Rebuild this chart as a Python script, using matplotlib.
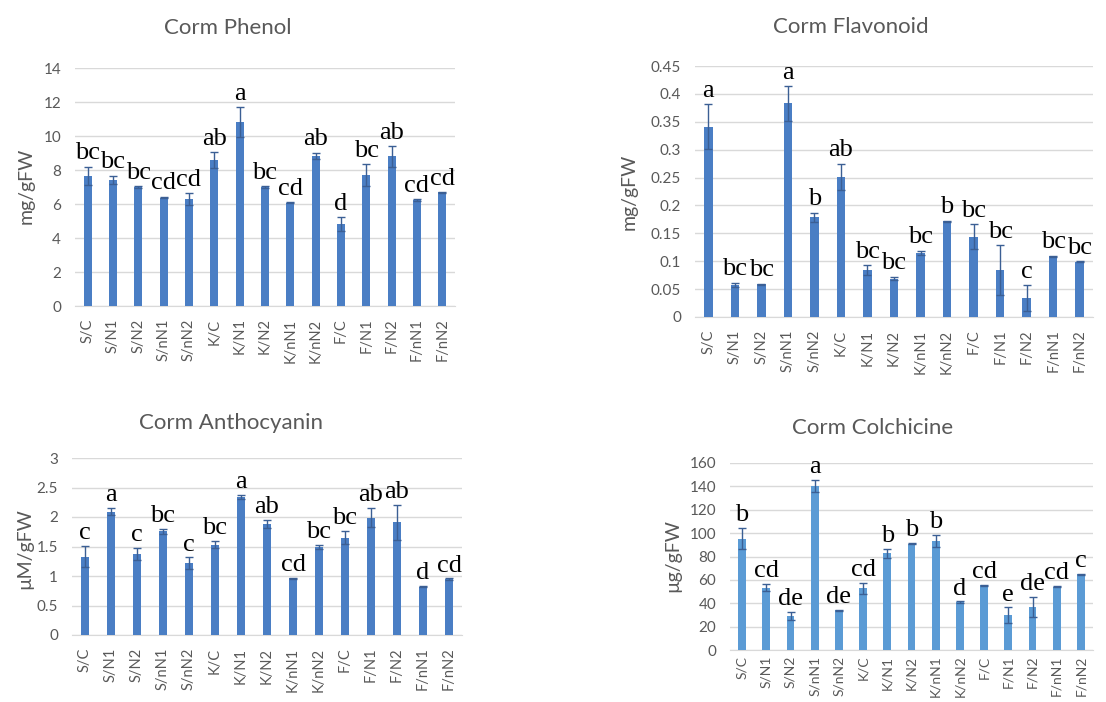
import matplotlib
matplotlib.use("Agg")
import matplotlib.pyplot as plt
import numpy as np

categories = ["S/C", "S/N1", "S/N2", "S/nN1", "S/nN2", "K/C", "K/N1", "K/N2",
              "K/nN1", "K/nN2", "F/C", "F/N1", "F/N2", "F/nN1", "F/nN2"]

phenol = [7.65, 7.43, 7.0, 6.38, 6.3, 8.57, 10.83, 7.0, 6.07, 8.82, 4.83, 7.68, 8.8, 6.25, 6.68]
phenol_err = [0.55, 0.23, 0.03, 0.05, 0.35, 0.47, 0.88, 0.05, 0.03, 0.2, 0.4, 0.65, 0.6, 0.05, 0.03]
phenol_letters = ["bc", "bc", "bc", "cd", "cd", "ab", "a", "bc", "cd", "ab", "d", "bc", "ab", "cd", "cd"]

flavonoid = [0.341, 0.057, 0.059, 0.383, 0.179, 0.251, 0.084, 0.069, 0.115, 0.172, 0.144, 0.084, 0.034, 0.109, 0.099]
flavonoid_err = [0.04, 0.004, 0.001, 0.031, 0.008, 0.024, 0.009, 0.003, 0.004, 0.001, 0.022, 0.045, 0.023, 0.001, 0.001]
flavonoid_letters = ["a", "bc", "bc", "a", "b", "ab", "bc", "bc", "bc", "b", "bc", "bc", "c", "bc", "bc"]

anthocyanin = [1.33, 2.09, 1.375, 1.755, 1.217, 1.53, 2.34, 1.885, 0.962, 1.49, 1.65, 1.99, 1.91, 0.82, 0.95]
anthocyanin_err = [0.18, 0.06, 0.1, 0.05, 0.1, 0.06, 0.04, 0.07, 0.01, 0.04, 0.11, 0.16, 0.3, 0.01, 0.01]
anthocyanin_letters = ["c", "a", "c", "bc", "c", "bc", "a", "ab", "cd", "bc", "bc", "ab", "ab", "d", "cd"]

colchicine = [95.4, 53.2, 29.0, 140.4, 33.9, 52.7, 82.6, 91.1, 93.1, 41.0, 55.5, 29.9, 37.0, 54.1, 64.9]
colchicine_err = [9, 3, 3.7, 5, 0.5, 5, 4, 0.5, 5, 0.5, 0.5, 6.5, 8.5, 0.5, 0.5]
colchicine_letters = ["b", "cd", "de", "a", "de", "cd", "b", "b", "b", "d", "cd", "e", "de", "cd", "c"]

W, H = 1106, 702
fig = plt.figure(figsize=(W / 100, H / 100), dpi=100)
fig.patch.set_facecolor("white")

GRAY = "#595959"
TFONT = ["Lato", "DejaVu Sans"]
LFONT = ["Liberation Serif", "DejaVu Serif"]


def rect(l, t, r, b):
    return [l / W, 1 - b / H, (r - l) / W, (b - t) / H]


panels = [
    dict(box=rect(75, 68, 455, 306), vals=phenol, err=phenol_err, let=phenol_letters,
         ymax=14, step=2, title="Corm Phenol", ylabel="mg/gFW",
         color="#4A7EC4", title_xy=(228, 28), ylabel_xy=(26, 186), xpad=9, xfs=10.5),
    dict(box=rect(695, 66, 1093, 317), vals=flavonoid, err=flavonoid_err, let=flavonoid_letters,
         ymax=0.45, step=0.05, title="Corm Flavonoid", ylabel="mg/gFW",
         color="#4A7EC4", title_xy=(851, 27), ylabel_xy=(629, 192), xpad=9, xfs=10.5),
    dict(box=rect(72, 458, 462, 635), vals=anthocyanin, err=anthocyanin_err, let=anthocyanin_letters,
         ymax=3, step=0.5, title="Corm Anthocyanin", ylabel="\u00b5M/gFW",
         color="#4A7EC4", title_xy=(231, 423), ylabel_xy=(25, 549), xpad=9, xfs=10.5),
    dict(box=rect(730, 463, 1093, 650), vals=colchicine, err=colchicine_err, let=colchicine_letters,
         ymax=160, step=20, title="Corm Colchicine", ylabel="\u00b5g/gFW",
         color="#5B9BD5", title_xy=(873, 428), ylabel_xy=(673, 556), xpad=4, xfs=10),
]

for p in panels:
    ax = fig.add_axes(p["box"])
    x = np.arange(len(categories))
    ax.bar(x, p["vals"], width=0.32, color=p["color"], zorder=3)
    ax.errorbar(x, p["vals"], yerr=p["err"], fmt="none", ecolor="#3b5f94",
                elinewidth=1.0, capsize=3, capthick=1.0, zorder=4)
    ax.set_xlim(-0.5, len(categories) - 0.5)
    ax.set_ylim(0, p["ymax"])
    ticks = np.arange(0, p["ymax"] + p["step"] / 2, p["step"])
    ax.set_yticks(ticks)
    ax.set_yticklabels(["{:g}".format(round(t, 2)) for t in ticks],
                       fontsize=11, color=GRAY, family=TFONT)
    ax.set_xticks(x)
    ax.set_xticklabels(categories, rotation=90, fontsize=p["xfs"], color=GRAY, family=TFONT)
    ax.tick_params(axis="y", length=0, pad=10)
    ax.tick_params(axis="x", length=0, pad=p["xpad"])
    ax.yaxis.grid(True, color="#d9d9d9", linewidth=1.0, zorder=0)
    ax.set_axisbelow(True)
    for s in ["top", "right", "left"]:
        ax.spines[s].set_visible(False)
    ax.spines["bottom"].set_color("#d9d9d9")
    off = p["ymax"] * 0.01
    for xi, v, e, l in zip(x, p["vals"], p["err"], p["let"]):
        ax.text(xi, v + e + off, l, ha="center", va="bottom", fontsize=19,
                family=LFONT, color="black", clip_on=False, zorder=5)
    tx, ty = p["title_xy"]
    fig.text(tx / W, 1 - ty / H, p["title"], ha="center", va="center",
             fontsize=16, color=GRAY, family=TFONT)
    lx, ly = p["ylabel_xy"]
    fig.text(lx / W, 1 - ly / H, p["ylabel"], ha="center", va="center", rotation=90,
             fontsize=14, color=GRAY, family=TFONT)

fig.savefig("out.png", dpi=100, facecolor="white")
